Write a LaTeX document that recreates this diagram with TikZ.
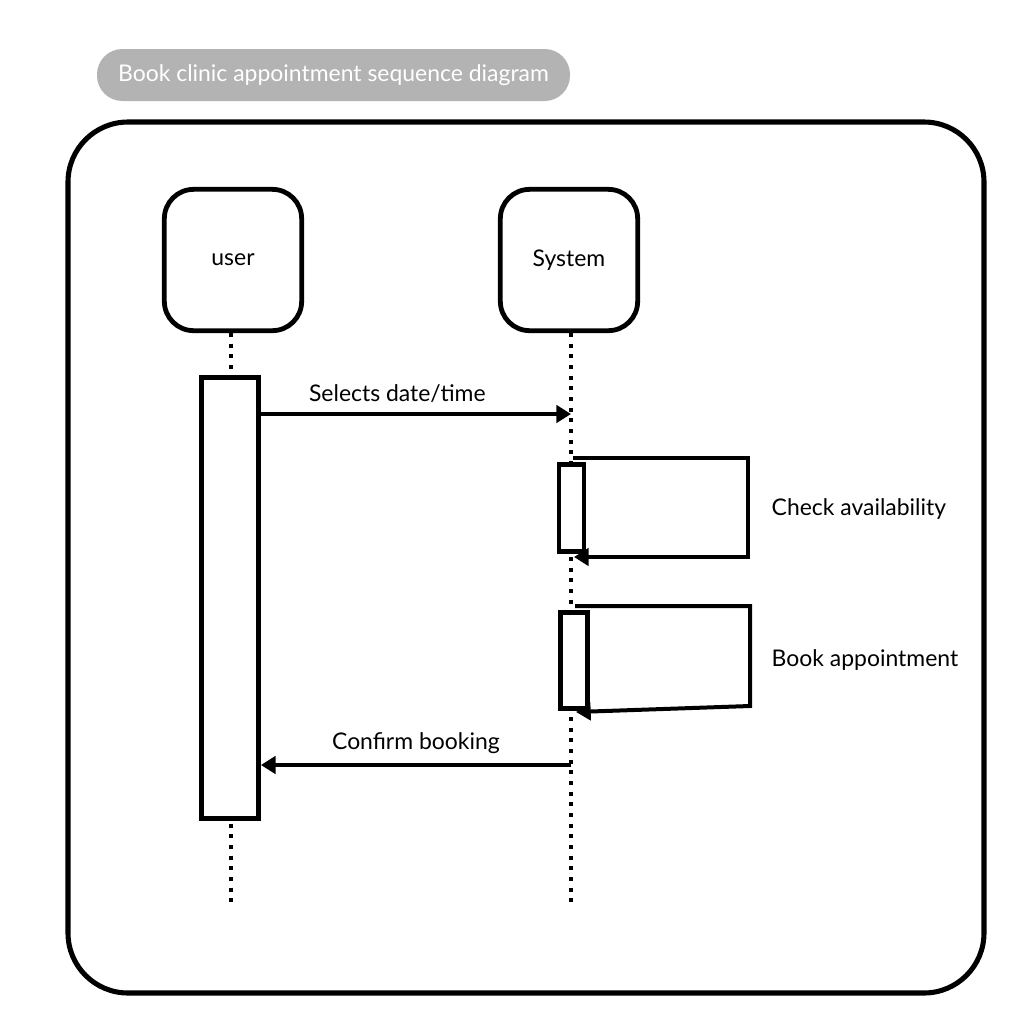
\documentclass[tikz,border=0pt]{standalone}
\usepackage{fontspec}
\setmainfont{Lato}
\usetikzlibrary{arrows.meta,positioning}
\definecolor{pillColor}{RGB}{179,179,179}

\begin{document}
\begin{tikzpicture}[x=0.75pt,y=-0.75pt,
  every node/.style={font=\fontsize{17.2}{20}\selectfont},
  actor/.style={draw,line width=3.6pt,rounded corners=22pt,
    minimum width=103pt,minimum height=106pt},
  actbar/.style={draw,fill=white,line width=3.4pt,inner sep=0pt},
  life/.style={line width=3.2pt,dash pattern=on 3pt off 5pt},
  msg/.style={line width=3pt,-{Triangle[length=11pt,width=13pt]}}]
  \useasboundingbox (0,0) rectangle (1022,1026);
  % Title
  \node[fill=pillColor,text=white,rounded corners=19pt,
    minimum width=354.75pt,minimum height=39pt] (title) at (333.5,75)
    {Book clinic appointment sequence diagram};
  % Frame
  \draw[line width=3.8pt,rounded corners=45pt] (68,122) rectangle (984,993);
  % Actors
  \node[actor] (user) at (233,260) {user};
  \node[actor] (sys) at (569,260) {System};
  % Lifelines
  \coordinate (userEnd) at (231,903);
  \coordinate (sysEnd) at (571,903);
  \draw[life] (user.south -| userEnd) -- (userEnd);
  \draw[life] (sys.south -| sysEnd) -- (sysEnd);
  % Activations
  \node[actbar,minimum width=43pt,minimum height=331pt] (userAct) at (230,598) {};
  \node[actbar,minimum width=18.5pt,minimum height=65.5pt] (chkAct) at (571.5,508) {};
  \node[actbar,minimum width=20.5pt,minimum height=72pt] (bookAct) at (574,660.5) {};
  % Selects date/time
  \coordinate (selEnd) at (571,414);
  \draw[msg] (userAct.east |- selEnd) -- (selEnd)
    node[pos=0.44,above=4pt] (selLbl) {Selects date/time};
  % Check availability
  \coordinate (chkA) at (573,458);
  \coordinate (chkB) at (748,458);
  \coordinate (chkC) at (748,557);
  \coordinate (chkD) at (574,557);
  \draw[msg] (chkA) -- (chkB) -- (chkC) -- (chkD);
  \node[anchor=west] (chkLbl) at (767,509) {Check availability};
  % Book appointment
  \coordinate (bookA) at (575,606);
  \coordinate (bookB) at (750,606);
  \coordinate (bookC) at (750,706);
  \coordinate (bookD) at (576,712);
  \draw[msg] (bookA) -- (bookB) -- (bookC) -- (bookD);
  \node[anchor=west] (bookLbl) at (767,660) {Book appointment};
  % Confirm booking
  \coordinate (cnfStart) at (571,765);
  \draw[msg] (cnfStart) -- (userAct.east |- cnfStart)
    node[midway,above=4pt] (cnfLbl) {Confirm booking};
\end{tikzpicture}
\end{document}
